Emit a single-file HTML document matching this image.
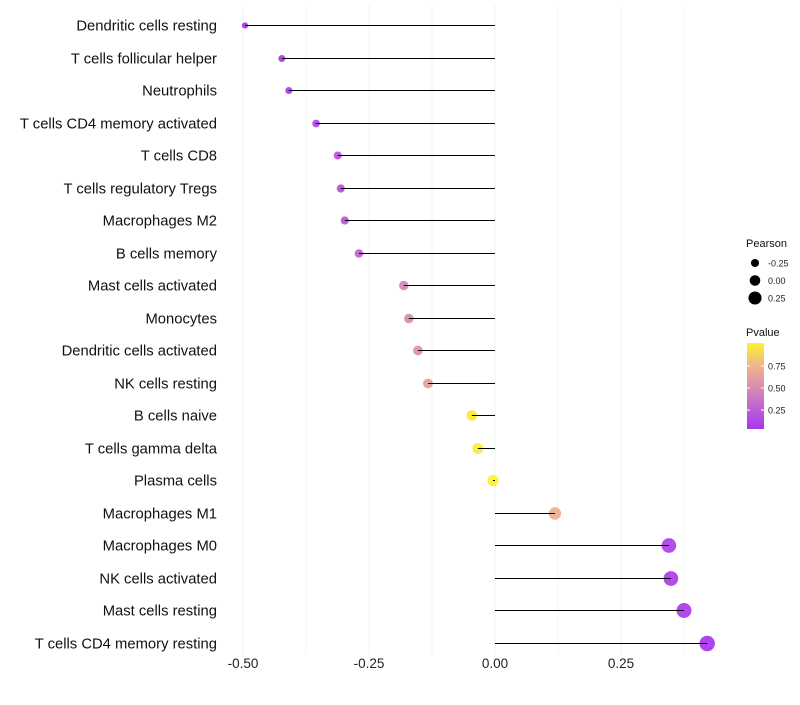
<!DOCTYPE html>
<html><head><meta charset="utf-8"><style>
body{margin:0;background:#fff;font-family:"Liberation Sans",sans-serif}
</style></head><body>
<svg id="c" width="800" height="700" xmlns="http://www.w3.org/2000/svg" font-family="Liberation Sans, sans-serif"></svg>
<script>
const categories=["Dendritic cells resting","T cells follicular helper","Neutrophils","T cells CD4 memory activated","T cells CD8","T cells regulatory  Tregs","Macrophages M2","B cells memory","Mast cells activated","Monocytes","Dendritic cells activated","NK cells resting","B cells naive","T cells gamma delta","Plasma cells","Macrophages M1","Macrophages M0","NK cells activated","Mast cells resting","T cells CD4 memory resting"];
const pearson=[-0.496,-0.423,-0.409,-0.355,-0.312,-0.306,-0.298,-0.270,-0.181,-0.171,-0.153,-0.133,-0.046,-0.034,-0.004,0.119,0.345,0.349,0.375,0.421];
const pvalue=[0.01,0.05,0.06,0.1,0.17,0.18,0.2,0.25,0.45,0.48,0.52,0.6,0.95,0.97,1.0,0.7,0.08,0.07,0.05,0.03];
const xTicks=[-0.5,-0.25,0,0.25];
const xTickLabels=["-0.50","-0.25","0.00","0.25"];
const sizeLegend=[-0.25,0,0.25];
const pTicks=[0.25,0.5,0.75];

const svg=document.getElementById('c');const NS="http://www.w3.org/2000/svg";
function mk(t,a,p){const e=document.createElementNS(NS,t);for(const k in a)e.setAttribute(k,a[k]);(p||svg).appendChild(e);return e;}
const x=v=>495+v*504;
const y=i=>Math.round(25+i*32.5)+0.5;
const r=v=>Math.max(1.8,5.6+5*v);
const stops=[[0,[157,31,240]],[0.5,[212,132,166]],[0.75,[239,176,122]],[1,[255,240,26]]];
function col(p){for(let i=1;i<stops.length;i++){if(p<=stops[i][0]){const a=stops[i-1],b=stops[i],t=(p-a[0])/(b[0]-a[0]);const c=a[1].map((v,j)=>Math.round(v+(b[1][j]-v)*t));return `rgb(${c})`;}}return 'rgb(255,240,26)';}
for(let v=-0.5;v<=0.4;v+=0.125){const g=mk('line',{x1:x(v),x2:x(v),y1:5,y2:655,stroke:'#f0f0f0','stroke-width':Math.abs((v*4)%1)<1e-6?1:0.6});

}
xTicks.forEach((v,i)=>{const t=mk('text',{x:x(v),y:668,'text-anchor':'middle','font-size':13.5,fill:'#222'});t.textContent=xTickLabels[i];

});
categories.forEach((c,i)=>{
const t=mk('text',{x:217,y:y(i)+5,'text-anchor':'end','font-size':14.8,fill:'#111'});t.textContent=c;


const d=mk('circle',{cx:x(pearson[i]),cy:y(i),r:r(pearson[i]),fill:col(pvalue[i]),'fill-opacity':0.85});


const l=mk('line',{x1:x(0),x2:x(pearson[i]),y1:y(i),y2:y(i),stroke:'#000','stroke-width':1});


});
const lt=mk('text',{x:746,y:247,'font-size':11,fill:'#111'});lt.textContent='Pearson';


sizeLegend.forEach((v,i)=>{const cy=263+i*17.5;const c=mk('circle',{cx:755,cy:cy,r:r(v)-0.3,fill:'#000'});


const t=mk('text',{x:768,y:cy+3.5,'font-size':9,fill:'#222'});t.textContent=v===0?'0.00':v.toFixed(2);

});
const pt=mk('text',{x:746,y:336,'font-size':11,fill:'#111'});pt.textContent='Pvalue';


const defs=mk('defs',{});const lg=mk('linearGradient',{id:'g',x1:0,y1:1,x2:0,y2:0},defs);
stops.forEach(s=>mk('stop',{offset:s[0],'stop-color':`rgb(${s[1]})`},lg));
const bar=mk('rect',{x:747,y:343,width:17,height:86,fill:'url(#g)','fill-opacity':0.9});


const py=p=>432-p*88;
pTicks.forEach(p=>{const t=mk('text',{x:768,y:py(p)+3.5,'font-size':9,fill:'#222'});t.textContent=p.toFixed(2);


mk('line',{x1:747,x2:750,y1:py(p),y2:py(p),stroke:'#fff'});mk('line',{x1:761,x2:764,y1:py(p),y2:py(p),stroke:'#fff'});});
</script>
</body></html>
